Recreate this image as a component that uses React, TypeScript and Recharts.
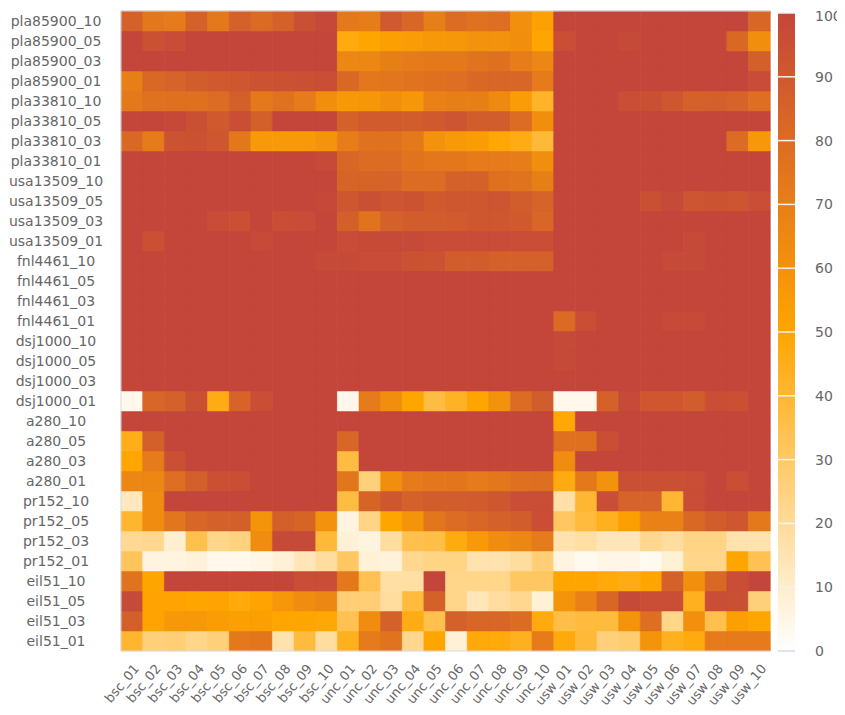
import React from 'react';
import { BarChart, Bar, Cell, XAxis, YAxis, ReferenceLine } from 'recharts';

// column labels (x axis)
const bscCols = ['bsc_01', 'bsc_02', 'bsc_03', 'bsc_04', 'bsc_05', 'bsc_06', 'bsc_07', 'bsc_08', 'bsc_09', 'bsc_10'];
const uncCols = ['unc_01', 'unc_02', 'unc_03', 'unc_04', 'unc_05', 'unc_06', 'unc_07', 'unc_08', 'unc_09', 'unc_10'];
const uswCols = ['usw_01', 'usw_02', 'usw_03', 'usw_04', 'usw_05', 'usw_06', 'usw_07', 'usw_08', 'usw_09', 'usw_10'];
const columns = [...bscCols, ...uncCols, ...uswCols];

// one array per row, values for bsc_01..bsc_10, unc_01..unc_10, usw_01..usw_10
const pla85900_10 = [86, 74, 72, 86, 73, 86, 81, 86, 95, 99, 73, 71, 90, 83, 70, 80, 77, 79, 61, 52, 100, 100, 100, 100, 100, 100, 100, 100, 100, 83];
const pla85900_05 = [100, 94, 97, 100, 100, 100, 100, 100, 100, 100, 47, 50, 53, 55, 57, 58, 60, 60, 62, 50, 96, 100, 100, 98, 100, 100, 100, 100, 82, 62];
const pla85900_03 = [100, 100, 100, 100, 100, 100, 100, 100, 100, 100, 66, 66, 70, 72, 73, 73, 76, 78, 71, 66, 100, 100, 100, 100, 100, 100, 100, 100, 100, 87];
const pla85900_01 = [70, 82, 85, 88, 90, 91, 93, 94, 95, 96, 82, 74, 75, 76, 78, 79, 82, 83, 83, 72, 100, 100, 100, 100, 100, 100, 100, 100, 100, 97];
const pla33810_10 = [73, 77, 78, 78, 80, 87, 73, 77, 72, 62, 57, 58, 61, 58, 69, 70, 70, 64, 55, 42, 100, 100, 100, 96, 95, 91, 86, 87, 85, 79];
const pla33810_05 = [100, 100, 99, 95, 90, 96, 87, 100, 100, 100, 86, 89, 89, 88, 90, 92, 88, 88, 80, 62, 100, 100, 100, 100, 100, 100, 100, 100, 100, 100];
const pla33810_03 = [82, 72, 93, 94, 91, 74, 56, 56, 56, 59, 71, 77, 77, 73, 60, 56, 54, 49, 46, 39, 100, 100, 100, 100, 100, 100, 100, 100, 80, 57];
const pla33810_01 = [100, 100, 100, 100, 100, 100, 100, 100, 100, 98, 83, 80, 80, 76, 74, 74, 72, 72, 71, 62, 100, 100, 100, 100, 100, 100, 100, 100, 100, 100];
const usa13509_10 = [100, 100, 100, 100, 100, 100, 100, 100, 100, 100, 84, 84, 85, 80, 80, 86, 86, 78, 76, 70, 100, 100, 100, 100, 100, 100, 100, 100, 100, 100];
const usa13509_05 = [100, 100, 100, 100, 100, 100, 100, 100, 100, 99, 91, 95, 92, 93, 90, 91, 91, 92, 88, 85, 100, 100, 100, 100, 95, 98, 92, 93, 92, 96];
const usa13509_03 = [100, 100, 100, 100, 97, 95, 100, 96, 97, 100, 87, 76, 86, 88, 88, 89, 91, 91, 90, 83, 100, 100, 100, 100, 100, 100, 100, 100, 100, 100];
const usa13509_01 = [100, 95, 100, 100, 100, 100, 98, 100, 100, 100, 97, 98, 98, 98, 97, 97, 97, 97, 96, 96, 100, 100, 100, 100, 100, 100, 98, 100, 100, 100];
const fnl4461_10 = [100, 100, 100, 100, 100, 100, 100, 100, 100, 98, 98, 97, 97, 94, 93, 88, 88, 86, 86, 86, 100, 100, 100, 100, 100, 98, 98, 100, 100, 100];
const fnl4461_05 = [100, 100, 100, 100, 100, 100, 100, 100, 100, 100, 100, 100, 100, 100, 100, 100, 100, 100, 100, 100, 100, 100, 100, 100, 100, 100, 100, 100, 100, 100];
const fnl4461_03 = [100, 100, 100, 100, 100, 100, 100, 100, 100, 100, 100, 100, 100, 100, 100, 100, 100, 100, 100, 100, 100, 100, 100, 100, 100, 100, 100, 100, 100, 100];
const fnl4461_01 = [100, 100, 100, 100, 100, 100, 100, 100, 100, 100, 100, 100, 100, 100, 100, 100, 100, 100, 100, 100, 81, 96, 100, 100, 100, 98, 98, 100, 100, 100];
const dsj1000_10 = [100, 100, 100, 100, 100, 100, 100, 100, 100, 100, 100, 100, 100, 100, 100, 100, 100, 100, 100, 100, 98, 100, 100, 100, 100, 100, 100, 100, 100, 100];
const dsj1000_05 = [100, 100, 100, 100, 100, 100, 100, 100, 100, 100, 100, 100, 100, 100, 100, 100, 100, 100, 100, 100, 98, 100, 100, 100, 100, 100, 100, 100, 100, 100];
const dsj1000_03 = [100, 100, 100, 100, 100, 100, 100, 100, 100, 100, 100, 100, 100, 100, 100, 100, 100, 100, 100, 100, 100, 100, 100, 100, 100, 100, 100, 100, 100, 100];
const dsj1000_01 = [4, 83, 86, 95, 46, 85, 96, 100, 100, 100, 4, 72, 62, 50, 37, 43, 50, 60, 80, 88, 4, 4, 86, 98, 91, 91, 88, 96, 95, 100];
const a280_10 = [100, 100, 100, 100, 100, 100, 100, 100, 100, 100, 100, 100, 100, 100, 100, 100, 100, 100, 100, 100, 49, 100, 100, 100, 100, 100, 100, 100, 100, 100];
const a280_05 = [45, 87, 100, 100, 100, 100, 100, 100, 100, 100, 83, 100, 100, 100, 100, 100, 100, 100, 100, 100, 78, 78, 96, 100, 100, 100, 100, 100, 100, 100];
const a280_03 = [50, 72, 95, 100, 100, 100, 100, 100, 100, 100, 37, 100, 100, 100, 100, 100, 100, 100, 100, 100, 63, 100, 100, 100, 100, 100, 100, 100, 100, 100];
const a280_01 = [66, 66, 79, 87, 95, 96, 100, 100, 100, 100, 75, 26, 62, 72, 74, 75, 72, 74, 78, 79, 47, 73, 60, 95, 95, 95, 96, 100, 96, 100];
const pr152_10 = [13, 63, 100, 100, 100, 100, 100, 100, 100, 100, 37, 84, 91, 86, 88, 88, 89, 91, 96, 96, 17, 40, 96, 85, 85, 40, 96, 100, 100, 100];
const pr152_05 = [41, 63, 75, 83, 86, 87, 59, 87, 84, 60, 6, 24, 50, 59, 75, 80, 83, 86, 88, 96, 31, 38, 44, 53, 69, 69, 82, 88, 91, 73];
const pr152_03 = [21, 22, 9, 35, 23, 25, 63, 98, 98, 39, 8, 6, 19, 35, 36, 47, 56, 63, 66, 72, 16, 18, 14, 14, 22, 19, 24, 24, 16, 16];
const pr152_01 = [32, 6, 6, 7, 4, 4, 5, 8, 14, 19, 31, 8, 7, 22, 24, 24, 16, 16, 19, 27, 6, 3, 5, 5, 3, 8, 23, 23, 50, 34];
const eil51_10 = [76, 50, 100, 100, 100, 100, 100, 100, 96, 96, 73, 34, 18, 18, 100, 23, 23, 23, 31, 31, 50, 50, 48, 46, 50, 86, 61, 82, 96, 100];
const eil51_05 = [98, 51, 51, 50, 51, 48, 51, 58, 63, 66, 27, 27, 19, 38, 86, 23, 14, 19, 22, 8, 59, 69, 83, 98, 96, 96, 44, 96, 95, 26];
const eil51_03 = [87, 51, 57, 57, 54, 53, 53, 50, 50, 49, 34, 63, 86, 46, 35, 86, 83, 83, 80, 47, 36, 38, 38, 59, 79, 23, 61, 35, 53, 50];
const eil51_01 = [41, 26, 27, 23, 26, 73, 75, 16, 38, 19, 44, 72, 76, 22, 50, 8, 48, 48, 44, 72, 48, 39, 26, 28, 59, 44, 47, 72, 72, 72];

// rows listed top to bottom
const rows = [
  { name: 'pla85900_10', values: pla85900_10 },
  { name: 'pla85900_05', values: pla85900_05 },
  { name: 'pla85900_03', values: pla85900_03 },
  { name: 'pla85900_01', values: pla85900_01 },
  { name: 'pla33810_10', values: pla33810_10 },
  { name: 'pla33810_05', values: pla33810_05 },
  { name: 'pla33810_03', values: pla33810_03 },
  { name: 'pla33810_01', values: pla33810_01 },
  { name: 'usa13509_10', values: usa13509_10 },
  { name: 'usa13509_05', values: usa13509_05 },
  { name: 'usa13509_03', values: usa13509_03 },
  { name: 'usa13509_01', values: usa13509_01 },
  { name: 'fnl4461_10', values: fnl4461_10 },
  { name: 'fnl4461_05', values: fnl4461_05 },
  { name: 'fnl4461_03', values: fnl4461_03 },
  { name: 'fnl4461_01', values: fnl4461_01 },
  { name: 'dsj1000_10', values: dsj1000_10 },
  { name: 'dsj1000_05', values: dsj1000_05 },
  { name: 'dsj1000_03', values: dsj1000_03 },
  { name: 'dsj1000_01', values: dsj1000_01 },
  { name: 'a280_10', values: a280_10 },
  { name: 'a280_05', values: a280_05 },
  { name: 'a280_03', values: a280_03 },
  { name: 'a280_01', values: a280_01 },
  { name: 'pr152_10', values: pr152_10 },
  { name: 'pr152_05', values: pr152_05 },
  { name: 'pr152_03', values: pr152_03 },
  { name: 'pr152_01', values: pr152_01 },
  { name: 'eil51_10', values: eil51_10 },
  { name: 'eil51_05', values: eil51_05 },
  { name: 'eil51_03', values: eil51_03 },
  { name: 'eil51_01', values: eil51_01 },
];

const scaleTicks = [0, 10, 20, 30, 40, 50, 60, 70, 80, 90, 100];

const FONT = '"DejaVu Sans", Verdana, sans-serif';
const LABEL = '#666';
const FRAME = '#d5dbe6';

// white -> orange -> red
const LOW = [255, 255, 255];
const MID = [255, 165, 0];
const HIGH = [196, 70, 58];

const heat = (v: number): string => {
  const [a, b, t] = v <= 50 ? [LOW, MID, v / 50] : [MID, HIGH, (v - 50) / 50];
  const c = a.map((x, i) => Math.round(x + (b[i] - x) * t));
  return `rgb(${c[0]},${c[1]},${c[2]})`;
};

// stack from the bottom row up
const stackRows = [...rows].reverse();
const rowTicks = stackRows.map((_, i) => i + 0.5);

const tableData = columns.map((col) => {
  const d: Record<string, string | number> = { col };
  stackRows.forEach((_, i) => {
    d[`r${i}`] = 1;
  });
  return d;
});

const RowTick = (props: any) => {
  const { x, y, payload } = props;
  const row = stackRows[Math.floor(payload.value)];
  return (
    <text x={x - 65} y={y} dy="0.35em" textAnchor="middle" fontSize={14} fill={LABEL} fontFamily={FONT}>
      {row ? row.name : ''}
    </text>
  );
};

const ColTick = (props: any) => {
  const { x, y, payload } = props;
  return (
    <text
      transform={`translate(${x + 8},${y + 18}) rotate(-50)`}
      textAnchor="end"
      fontSize={13}
      fill={LABEL}
      fontFamily={FONT}
    >
      {payload.value}
    </text>
  );
};

const ColorBar: React.FC = () => (
  <BarChart
    width={64}
    height={660}
    data={[{ k: 'scale', v: 100 }]}
    margin={{ top: 5, right: 0, left: 0, bottom: 17 }}
    barCategoryGap={0}
  >
    <defs>
      <linearGradient id="heatScale" x1="0" y1="0" x2="0" y2="1">
        <stop offset="0%" stopColor={heat(100)} />
        <stop offset="50%" stopColor={heat(50)} />
        <stop offset="100%" stopColor={heat(0)} />
      </linearGradient>
    </defs>
    <XAxis dataKey="k" hide />
    <YAxis
      orientation="right"
      type="number"
      domain={[0, 100]}
      ticks={scaleTicks}
      width={47}
      axisLine={false}
      tickLine={false}
      tickSize={0}
      tickMargin={20}
      tick={{ fontSize: 14, fill: LABEL, fontFamily: FONT }}
    />
    <Bar dataKey="v" fill="url(#heatScale)" isAnimationActive={false} />
    {scaleTicks.map((t) => (
      <ReferenceLine key={t} y={t} stroke={t === 0 ? FRAME : '#f2f2f2'} strokeWidth={1.5} />
    ))}
  </BarChart>
);

const App: React.FC = () => {
  return (
    <div style={{ position: 'relative', width: 829, height: 698, fontFamily: FONT }}>
      <style>{'.recharts-wrapper, .recharts-surface { overflow: visible !important; }'}</style>
      <div style={{ position: 'absolute', left: 0, top: 0 }}>
        <BarChart
          width={762}
          height={698}
          data={tableData}
          margin={{ top: 3, right: 0, left: 0, bottom: 0 }}
          barCategoryGap={0}
          barGap={0}
        >
          <XAxis
            dataKey="col"
            interval={0}
            height={55}
            tickLine={false}
            tickSize={0}
            tickMargin={0}
            axisLine={{ stroke: FRAME }}
            tick={<ColTick />}
          />
          <YAxis
            type="number"
            domain={[0, rows.length]}
            ticks={rowTicks}
            interval={0}
            width={113}
            tickLine={false}
            tickSize={0}
            tickMargin={0}
            axisLine={{ stroke: FRAME }}
            tick={<RowTick />}
          />
          {stackRows.map((row, i) => (
            <Bar key={row.name} dataKey={`r${i}`} stackId="heat" isAnimationActive={false}>
              {row.values.map((v, j) => (
                <Cell key={j} fill={heat(v)} stroke={heat(v)} strokeWidth={0.5} />
              ))}
            </Bar>
          ))}
          <ReferenceLine y={rows.length} stroke={FRAME} />
        </BarChart>
      </div>
      <div style={{ position: 'absolute', left: 770, top: 0 }}>
        <ColorBar />
      </div>
    </div>
  );
};

export default App;
